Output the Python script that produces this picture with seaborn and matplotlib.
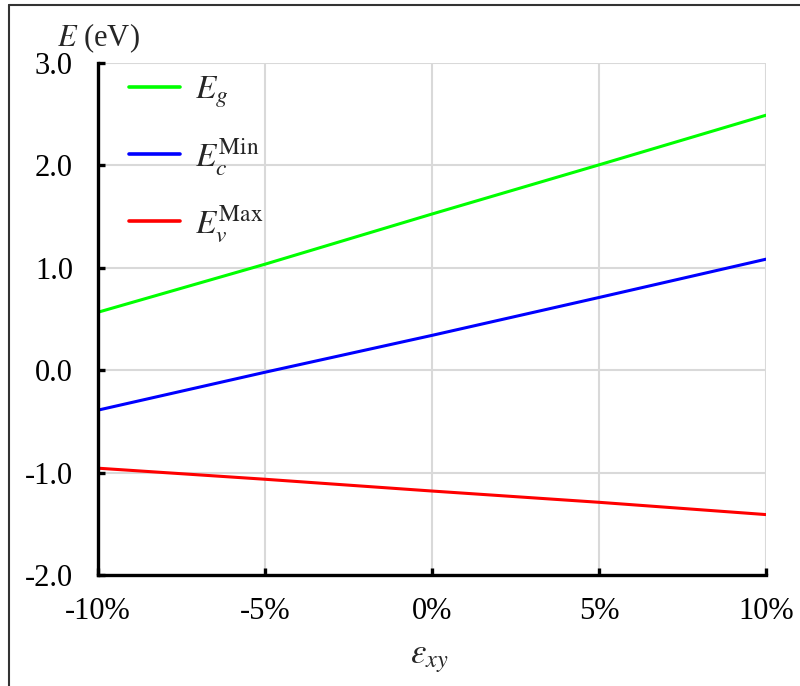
import numpy as np
import pandas as pd
import matplotlib
matplotlib.use("Agg")
import matplotlib.pyplot as plt
import seaborn as sns
from matplotlib.lines import Line2D

strain = [-10, -5, 0, 5, 10]
Eg = [0.566, 1.035, 1.525, 2.005, 2.49]
Ec_min = [-0.39, -0.02, 0.34, 0.71, 1.084]
Ev_max = [-0.957, -1.065, -1.18, -1.29, -1.41]
labels = [r"$E_g$", r"$E_c^{\mathrm{Min}}$", r"$E_v^{\mathrm{Max}}$"]
colors = ["#00ff00", "#0000ff", "#ff0000"]
xticks = [-10, -5, 0, 5, 10]
xticklabels = ["-10%", "-5%", "0%", "5%", "10%"]
yticks = [-2, -1, 0, 1, 2, 3]

sns.set_theme(style="white")
plt.rcParams["font.family"] = ["Liberation Serif", "DejaVu Serif"]
plt.rcParams["mathtext.fontset"] = "stix"

df = pd.DataFrame({"strain": strain * 3,
                   "E": Eg + Ec_min + Ev_max,
                   "series": [labels[0]] * 5 + [labels[1]] * 5 + [labels[2]] * 5})

fig = plt.figure(figsize=(8.0, 6.86), dpi=100)
ax = fig.add_axes([0.1225, 0.1618, 0.835, 0.7464])

sns.lineplot(data=df, x="strain", y="E", hue="series", palette=colors,
             hue_order=labels, linewidth=2.2, ax=ax, legend=False, zorder=3)

ax.set_xlim(-10, 10)
ax.set_ylim(-2, 3)
ax.set_xticks(xticks)
ax.set_xticklabels(xticklabels)
ax.set_yticks(yticks)
ax.set_yticklabels([f"{v:.1f}" for v in yticks])
ax.grid(True, color="#d9d9d9", linewidth=1.5, zorder=0)
ax.set_axisbelow(True)

for s in ["top", "right"]:
    ax.spines[s].set_visible(False)
for s in ["left", "bottom"]:
    ax.spines[s].set_visible(True)
    ax.spines[s].set_color("black")
    ax.spines[s].set_linewidth(2.4)
    ax.spines[s].set_zorder(4)

ax.tick_params(axis="both", direction="in", length=5, width=2.4, color="black",
               labelsize=22, labelcolor="black", left=True, bottom=True)
ax.tick_params(axis="y", pad=18)
ax.tick_params(axis="x", pad=16)

ax.set_xlabel("")
ax.set_ylabel("")
fig.text(0.537, 0.040, r"$\varepsilon_{xy}$", fontsize=25, ha="center", va="center")
fig.text(0.071, 0.944, r"$E$ (eV)", fontsize=22, ha="left", va="center")

handles = [Line2D([0], [0], color=c, lw=2.6) for c in colors]
leg = fig.legend(handles, labels, loc="upper left",
                 bbox_to_anchor=(0.161, 0.891), bbox_transform=fig.transFigure,
                 frameon=False, fontsize=24, handlelength=1.55, labelspacing=0.77,
                 handletextpad=0.45, borderpad=0, borderaxespad=0)

fig.add_artist(Line2D([0.011, 0.011], [0.0, 0.993], color="#333333", lw=1.5,
                      transform=fig.transFigure))
fig.add_artist(Line2D([0.011, 1.0], [0.993, 0.993], color="#333333", lw=1.5,
                      transform=fig.transFigure))

fig.savefig("out.png", dpi=100)
